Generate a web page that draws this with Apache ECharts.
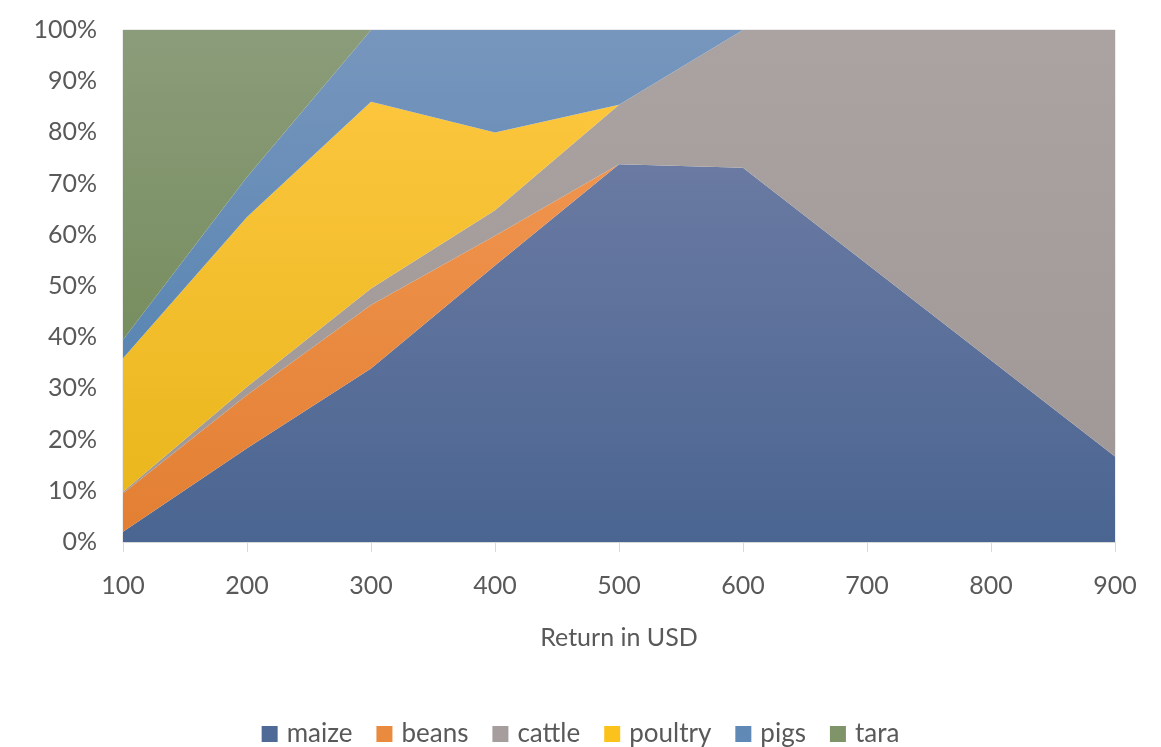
<!DOCTYPE html>
<html>
<head>
<meta charset="utf-8">
<script src="https://cdn.jsdelivr.net/npm/echarts@6/dist/echarts.min.js"></script>
<style>
html, body { margin: 0; padding: 0; background: #fff; }
#chart { width: 1161px; height: 747px; }
</style>
</head>
<body>
<div id="chart"></div>
<script>
// 100% stacked area: share of income source by return level
var categories = ['100', '200', '300', '400', '500', '600', '700', '800', '900'];

var maize   = [2.0, 18.3, 33.9, 54.0, 73.8, 73.1, 54.3, 35.5, 16.7];
var beans   = [7.5, 10.4, 12.4, 5.8, 0, 0, 0, 0, 0];
var cattle  = [0.3, 1.6, 3.2, 5.0, 11.6, 26.9, 45.7, 64.5, 83.3];
var poultry = [26.1, 33.2, 36.5, 15.2, 0, 0, 0, 0, 0];
var pigs    = [3.6, 7.8, 14.0, 20.0, 14.6, 0, 0, 0, 0];
var tara    = [60.5, 28.7, 0, 0, 0, 0, 0, 0, 0];

var seriesNames = ['maize', 'beans', 'cattle', 'poultry', 'pigs', 'tara'];
var seriesData = [maize, beans, cattle, poultry, pigs, tara];

// top / bottom gradient colours per series
var colorsTop    = ['#6a7aa2', '#f0944e', '#aaa3a1', '#ffc843', '#7796bd', '#8b9c7a'];
var colorsBottom = ['#4a6591', '#e27f33', '#a09896', '#eab71d', '#5a86b3', '#778e5f'];
var legendColors = ['#4f6a97', '#ea8a3f', '#a59e9c', '#fcc21c', '#6089b5', '#7f9468'];

var e = echarts.init(document.getElementById('chart'));

var series = [];
for (var i = 0; i < seriesNames.length; i++) {
    series.push({
        name: seriesNames[i],
        type: 'line',
        stack: 'total',
        symbol: 'none',
        smooth: false,
        lineStyle: { width: 0 },
        itemStyle: { color: legendColors[i] },
        areaStyle: {
            opacity: 1,
            color: new echarts.graphic.LinearGradient(0, 0, 0, 1, [
                { offset: 0, color: colorsTop[i] },
                { offset: 1, color: colorsBottom[i] }
            ])
        },
        data: seriesData[i]
    });
}

var option = {
    animation: false,
    textStyle: { fontFamily: 'Lato, "Open Sans", sans-serif' },
    grid: {
        left: 123,
        right: 46,
        top: 30,
        bottom: 205,
        show: true,
        borderColor: '#d9d9d9',
        borderWidth: 1
    },
    legend: {
        data: seriesNames.map(function (n, i) {
            return { name: n, itemStyle: { color: legendColors[i] } };
        }),
        top: 716,
        left: 'center',
        icon: 'rect',
        itemWidth: 16,
        itemHeight: 16,
        itemGap: 24,
        textStyle: { fontSize: 26, color: '#595959', padding: [0, 0, 0, 4] }
    },
    xAxis: {
        type: 'category',
        data: categories,
        boundaryGap: false,
        name: 'Return in USD',
        nameLocation: 'middle',
        nameGap: 83,
        nameTextStyle: { fontSize: 25, color: '#595959' },
        axisLine: { lineStyle: { color: '#d9d9d9', width: 1 } },
        axisTick: { show: true, length: 10, lineStyle: { color: '#d9d9d9' } },
        axisLabel: { fontSize: 25, color: '#595959', margin: 31 },
        splitLine: { show: false }
    },
    yAxis: {
        type: 'value',
        min: 0,
        max: 100,
        interval: 10,
        axisLine: { show: false },
        axisTick: { show: false },
        axisLabel: { fontSize: 25, color: '#595959', margin: 26, formatter: '{value}%' },
        splitLine: { show: false }
    },
    series: series
};

e.setOption(option);
</script>
</body>
</html>
